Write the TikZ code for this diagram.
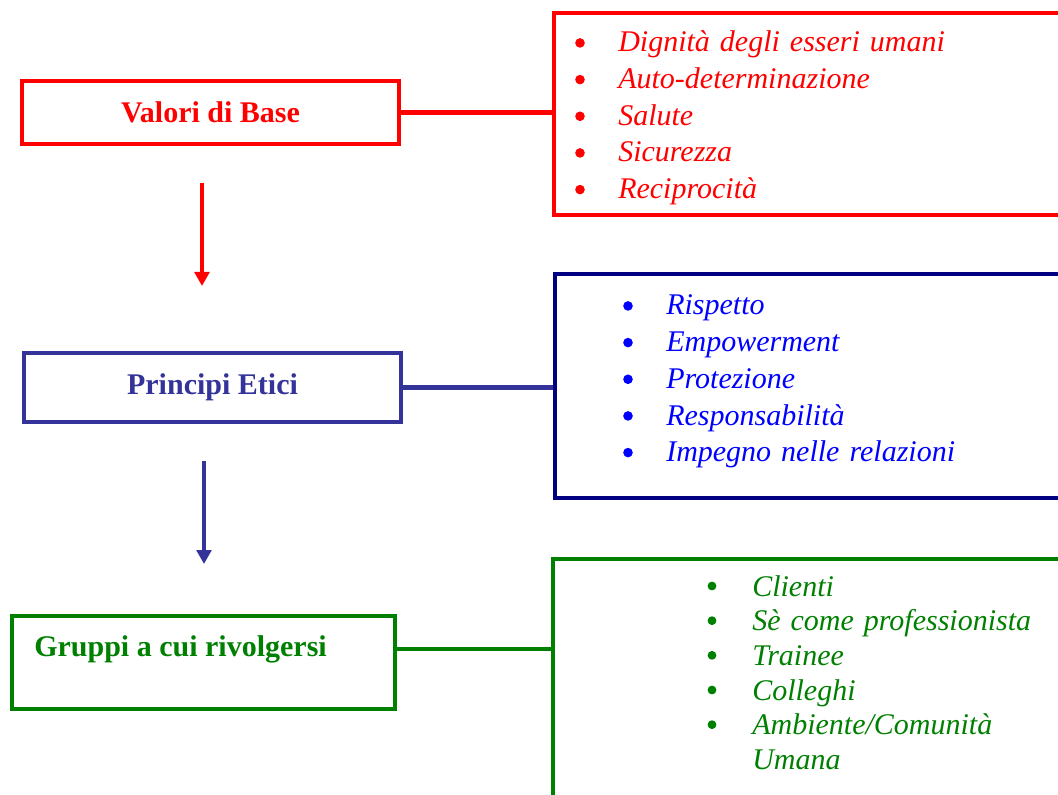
\documentclass[tikz,border=0pt]{standalone}
\usepackage{fontspec}
\setmainfont{Liberation Serif}
\usetikzlibrary{arrows.meta}
\definecolor{ValRed}{RGB}{255, 0, 0}
\definecolor{EtiSlate}{RGB}{51, 51, 153}
\definecolor{EtiNavy}{RGB}{0, 0, 128}
\definecolor{EtiBlue}{RGB}{0, 0, 255}
\definecolor{GrpGreen}{RGB}{0, 128, 0}

\begin{document}
\begin{tikzpicture}[x=0.75pt, y=-0.75pt]
\tikzstyle{block} = [rectangle, draw, line width=3.3pt, inner sep=0pt,
    font=\fontsize{22.5}{27}\selectfont\bfseries]
\tikzstyle{listbox} = [rectangle, draw, line width=3.3pt, inner sep=0pt]
\tikzstyle{item} = [inner sep=0pt, text width=10cm, align=left,
    text height=14pt, text depth=4pt, font=\fontsize{22.5}{27}\selectfont\itshape]
\tikzstyle{line} = [draw, line width=3.5pt]
\tikzstyle{down} = [draw, line width=3pt, -{Triangle[width=11pt,length=10.5pt]}]

\useasboundingbox (0,0) rectangle (1058,795);
\clip (0,0) rectangle (1058,795);

% Valori di Base
\node [block, color=ValRed, minimum width=282.75pt, minimum height=47.25pt] (Valori) at (210.5,112.5) {Valori di Base};
\node [listbox, draw=ValRed, minimum width=484.5pt, minimum height=151.5pt] (VList) at (877,114) {};
\path [line, draw=ValRed] (Valori.east) -- (Valori.east -| VList.west);
\node [item, color=ValRed, anchor=base west] (v1) at (618,52) {Dignità degli esseri umani};
\node [item, color=ValRed, below of=v1, node distance=27.5pt] (v2) {Auto-determinazione};
\node [item, color=ValRed, below of=v2, node distance=27.5pt] (v3) {Salute};
\node [item, color=ValRed, below of=v3, node distance=27.5pt] (v4) {Sicurezza};
\node [item, color=ValRed, below of=v4, node distance=27.5pt] (v5) {Reciprocità};
\foreach \n in {v1,v2,v3,v4,v5}
  \fill [ValRed] ([xshift=-28.5pt, yshift=6.8pt]\n.base west) circle (3.6pt);
%
\coordinate (a1top) at (202,183);
\coordinate (a1tip) at (202,286);
\path [down, draw=ValRed] (a1top) -- (a1tip);
%
% Principi Etici
\node [block, color=EtiSlate, minimum width=282.75pt, minimum height=51.75pt] (Etici) at (212.5,387.5) {Principi Etici};
\node [listbox, draw=EtiNavy, minimum width=483.75pt, minimum height=168pt] (EList) at (877.5,386) {};
\path [line, draw=EtiSlate] (Etici.east) -- (Etici.east -| EList.west);
\node [item, color=EtiBlue, anchor=base west] (e1) at (666,315) {Rispetto};
\node [item, color=EtiBlue, below of=e1, node distance=27.5pt] (e2) {Empowerment};
\node [item, color=EtiBlue, below of=e2, node distance=27.5pt] (e3) {Protezione};
\node [item, color=EtiBlue, below of=e3, node distance=27.5pt] (e4) {Responsabilità};
\node [item, color=EtiBlue, below of=e4, node distance=27.5pt] (e5) {Impegno nelle relazioni};
\foreach \n in {e1,e2,e3,e4,e5}
  \fill [EtiBlue] ([xshift=-28.5pt, yshift=6.8pt]\n.base west) circle (3.6pt);
%
\coordinate (a2top) at (204,461);
\coordinate (a2tip) at (204,564);
\path [down, draw=EtiSlate] (a2top) -- (a2tip);
%
% Gruppi a cui rivolgersi
\node [block, draw=GrpGreen, minimum width=287.25pt, minimum height=69.75pt] (Gruppi) at (203.5,662.5) {};
\node [font=\fontsize{22.5}{27}\selectfont\bfseries, color=GrpGreen, inner sep=0pt, anchor=base west] (GLabel) at (34,656) {Gruppi a cui rivolgersi};
\node [listbox, draw=GrpGreen, minimum width=485.25pt, minimum height=255.75pt] (GList) at (876.5,729.5) {};
\path [line, draw=GrpGreen] (Gruppi.east |- GLabel) -- (GList.west |- GLabel);
\node [item, color=GrpGreen, anchor=base west] (g1) at (752,596) {Clienti};
\node [item, color=GrpGreen, below of=g1, node distance=26pt] (g2) {Sè come professionista};
\node [item, color=GrpGreen, below of=g2, node distance=26pt] (g3) {Trainee};
\node [item, color=GrpGreen, below of=g3, node distance=26pt] (g4) {Colleghi};
\node [item, color=GrpGreen, below of=g4, node distance=26pt] (g5) {Ambiente/Comunità};
\node [item, color=GrpGreen, below of=g5, node distance=26pt] (g6) {Umana};
\foreach \n in {g1,g2,g3,g4,g5}
  \fill [GrpGreen] ([xshift=-30pt, yshift=7.5pt]\n.base west) circle (3.3pt);

\end{tikzpicture}
\end{document}
